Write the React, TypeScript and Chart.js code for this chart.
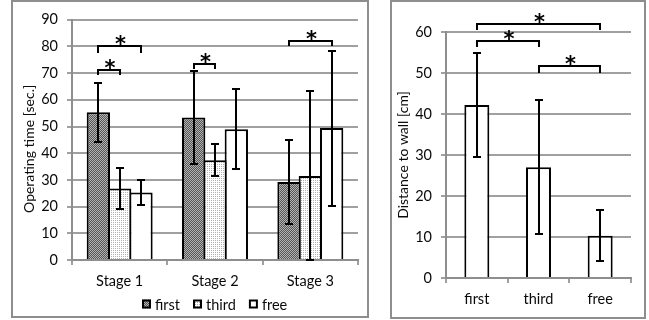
import React, { useEffect, useRef } from 'react';
import { Chart, registerables } from 'chart.js';

Chart.register(...registerables);

// ---------- data: left chart (operating time) ----------
const stageLabels = ['Stage 1', 'Stage 2', 'Stage 3'];
const seriesNames = ['first', 'third', 'free'];
const firstMeans = [55.3, 53.4, 29.2];
const firstErrors = [11.0, 17.3, 15.8];
const thirdMeans = [26.8, 37.4, 31.5];
const thirdErrors = [7.8, 6.0, 31.8];
const freeMeans = [25.3, 49.0, 49.4];
const freeErrors = [4.8, 15.0, 29.0];
const timeTicks = [0, 10, 20, 30, 40, 50, 60, 70, 80, 90];
const timeTitle = 'Operating time [sec.]';
// significance brackets: [fromDataset, fromIndex, toDataset, toIndex, level, endLevel]
const timeBrackets = [
  [0, 0, 1, 0, 71.1, 69.4],
  [0, 0, 2, 0, 80.0, 77.5],
  [0, 1, 1, 1, 73.4, 71.6],
  [0, 2, 2, 2, 82.1, 80.0],
];

// ---------- data: right chart (distance to wall) ----------
const wallLabels = ['first', 'third', 'free'];
const wallMeans = [42.2, 27.0, 10.3];
const wallErrors = [12.8, 16.3, 6.2];
const wallTicks = [0, 10, 20, 30, 40, 50, 60];
const wallTitle = 'Distance to wall [cm]';
const wallBrackets = [
  [0, 0, 0, 2, 61.9, 60.6],
  [0, 0, 0, 1, 57.7, 56.3],
  [0, 1, 0, 2, 51.7, 50.0],
];

const FONT = 'Lato';
const FONT_SIZE = 14.5;
const TITLE_SIZE = 14;
const TEXT = '#0a0a0a';
const GRID = '#a0a0a0';
const AXIS = '#8e8e8e';

function makePattern(size: number, base: string, dot: string, dots: number[][]) {
  const c = document.createElement('canvas');
  c.width = size;
  c.height = size;
  const g = c.getContext('2d')!;
  g.fillStyle = base;
  g.fillRect(0, 0, size, size);
  g.fillStyle = dot;
  dots.forEach(([x, y]) => g.fillRect(x, y, 1, 1));
  return g.createPattern(c, 'repeat')!;
}

const errorBarsPlugin = {
  id: 'errorBars',
  afterDatasetsDraw(chart: any, _args: any, opts: any) {
    const errs: number[][] = opts.errors;
    if (!errs) return;
    const ctx = chart.ctx;
    const yScale = chart.scales.y;
    const hw = opts.capHalfWidth ?? 4;
    ctx.save();
    ctx.strokeStyle = '#000';
    ctx.lineWidth = 2;
    chart.data.datasets.forEach((ds: any, di: number) => {
      const meta = chart.getDatasetMeta(di);
      meta.data.forEach((bar: any, i: number) => {
        const v = ds.data[i];
        const e = errs[di][i];
        const top = Math.round(yScale.getPixelForValue(v + e));
        const bot = Math.round(yScale.getPixelForValue(Math.max(v - e, yScale.min)));
        const x = Math.round(bar.x);
        ctx.beginPath();
        ctx.moveTo(x, top);
        ctx.lineTo(x, bot);
        ctx.moveTo(x - hw, top);
        ctx.lineTo(x + hw, top);
        ctx.moveTo(x - hw, bot);
        ctx.lineTo(x + hw, bot);
        ctx.stroke();
      });
    });
    ctx.restore();
  },
};

const bracketsPlugin = {
  id: 'sigBrackets',
  afterDraw(chart: any, _args: any, opts: any) {
    const items: number[][] = opts.items;
    if (!items) return;
    const ctx = chart.ctx;
    const yScale = chart.scales.y;
    ctx.save();
    ctx.strokeStyle = '#000';
    ctx.fillStyle = '#000';
    ctx.lineWidth = 2;
    ctx.font = `bold 21px "DejaVu Sans"`;
    ctx.textAlign = 'center';
    ctx.textBaseline = 'alphabetic';
    items.forEach(([ds1, i1, ds2, i2, level, end]) => {
      const x1 = Math.round(chart.getDatasetMeta(ds1).data[i1].x);
      const x2 = Math.round(chart.getDatasetMeta(ds2).data[i2].x);
      const y = Math.round(yScale.getPixelForValue(level));
      const ye = Math.round(yScale.getPixelForValue(end));
      ctx.beginPath();
      ctx.moveTo(x1, ye);
      ctx.lineTo(x1, y);
      ctx.lineTo(x2, y);
      ctx.lineTo(x2, ye);
      ctx.stroke();
      ctx.fillText('*', (x1 + x2) / 2 + 1, y + 5);
    });
    ctx.restore();
  },
};

const axisTitlePlugin = {
  id: 'axisTitle',
  afterDraw(chart: any, _args: any, opts: any) {
    if (!opts.text) return;
    const ctx = chart.ctx;
    const y = chart.scales.y;
    ctx.save();
    ctx.translate(opts.x, (y.top + y.bottom) / 2 + (opts.shift || 0));
    ctx.rotate(-Math.PI / 2);
    ctx.font = `${TITLE_SIZE}px ${FONT}`;
    ctx.fillStyle = TEXT;
    ctx.textAlign = 'center';
    ctx.textBaseline = 'middle';
    ctx.fillText(opts.text, 0, 0);
    ctx.restore();
  },
};

const patternLegendPlugin = {
  id: 'patternLegend',
  afterDraw(chart: any, _args: any, opts: any) {
    if (!opts.show) return;
    const ctx = chart.ctx;
    const area = chart.chartArea;
    const y = opts.y;
    const box = 9;
    const gapText = 4;
    const gapItem = 13;
    ctx.save();
    ctx.font = `${FONT_SIZE}px ${FONT}`;
    const items = chart.data.datasets.map((ds: any) => ({
      label: ds.label,
      fill: ds.backgroundColor,
      w: ctx.measureText(ds.label).width,
    }));
    const total = items.reduce((s: number, it: any) => s + box + gapText + it.w, 0) + gapItem * (items.length - 1);
    let x = Math.round((area.left + area.right) / 2 - total / 2);
    items.forEach((it: any) => {
      ctx.fillStyle = it.fill;
      ctx.fillRect(x, y - box / 2, box, box);
      ctx.strokeStyle = '#000';
      ctx.lineWidth = 2;
      ctx.strokeRect(x + 1, y - box / 2 + 1, box - 2, box - 2);
      ctx.fillStyle = TEXT;
      ctx.textBaseline = 'middle';
      ctx.textAlign = 'left';
      ctx.fillText(it.label, x + box + gapText, y + 1);
      x += box + gapText + it.w + gapItem;
    });
    ctx.restore();
  },
};

function axisOptions(ticks: number[], yWidth: number) {
  const font = { family: FONT, size: FONT_SIZE };
  return {
    x: {
      grid: { display: true, drawOnChartArea: false, drawTicks: true, tickLength: 5, color: GRID, lineWidth: 2, offset: true },
      border: { display: true, color: AXIS, width: 2 },
      ticks: { font, color: TEXT, padding: 8 },
      afterFit: (s: any) => { s.height = 30; },
    },
    y: {
      min: ticks[0],
      max: ticks[ticks.length - 1],
      afterBuildTicks: (s: any) => { s.ticks = ticks.map((v) => ({ value: v })); },
      ticks: { font, color: TEXT, padding: 9 },
      grid: { color: GRID, lineWidth: 2, tickLength: 5 },
      border: { display: true, color: AXIS, width: 2 },
      title: { display: false },
      afterFit: (s: any) => { s.width = yWidth; },
    },
  };
}

export default function App() {
  const leftRef = useRef<HTMLCanvasElement>(null);
  const rightRef = useRef<HTMLCanvasElement>(null);

  useEffect(() => {
    const dark = makePattern(2, '#b4b4b4', '#555555', [[0, 0], [1, 1]]);
    const light = makePattern(2, '#ffffff', '#b0b0b0', [[0, 0]]);
    const fills = [dark, light, '#ffffff'];
    const means = [firstMeans, thirdMeans, freeMeans];

    const left = new Chart(leftRef.current!, {
      type: 'bar',
      data: {
        labels: stageLabels,
        datasets: seriesNames.map((name, i) => ({
          label: name,
          data: means[i],
          backgroundColor: fills[i],
          borderColor: '#000',
          borderWidth: 2,
          borderSkipped: 'start',
          categoryPercentage: 0.671,
          barPercentage: 1.094,
        })),
      },
      options: {
        responsive: false,
        animation: false,
        layout: { padding: { left: 4, right: 9, top: 15, bottom: 26 } },
        plugins: {
          legend: { display: false },
          tooltip: { enabled: false },
          errorBars: { errors: [firstErrors, thirdErrors, freeErrors], capHalfWidth: 4 },
          sigBrackets: { items: timeBrackets },
          axisTitle: { text: timeTitle, x: 16, shift: 9 },
          patternLegend: { show: true, y: 302 },
        } as any,
        scales: axisOptions(timeTicks, 55) as any,
      },
      plugins: [errorBarsPlugin, bracketsPlugin, axisTitlePlugin, patternLegendPlugin],
    });

    const right = new Chart(rightRef.current!, {
      type: 'bar',
      data: {
        labels: wallLabels,
        datasets: [
          {
            label: 'distance',
            data: wallMeans,
            backgroundColor: '#ffffff',
            borderColor: '#000',
            borderWidth: 2,
            borderSkipped: 'start',
            categoryPercentage: 1,
            barPercentage: 0.405,
          },
        ],
      },
      options: {
        responsive: false,
        animation: false,
        layout: { padding: { left: 0, right: 13, top: 30, bottom: 9 } },
        plugins: {
          legend: { display: false },
          tooltip: { enabled: false },
          errorBars: { errors: [wallErrors], capHalfWidth: 4 },
          sigBrackets: { items: wallBrackets },
          axisTitle: { text: wallTitle, x: 11, shift: 0 },
          patternLegend: { show: false },
        } as any,
        scales: axisOptions(wallTicks, 54) as any,
      },
      plugins: [errorBarsPlugin, bracketsPlugin, axisTitlePlugin, patternLegendPlugin],
    });

    return () => {
      left.destroy();
      right.destroy();
    };
  }, []);

  const boxStyle = (left: number, w: number, h: number): React.CSSProperties => ({
    position: 'absolute',
    left,
    top: 0,
    width: w,
    height: h,
    border: '2px solid #8e8e8e',
    background: '#fff',
  });

  return (
    <div style={{ position: 'fixed', left: 0, top: 0, width: 649, height: 320, background: '#fff' }}>
      <div style={boxStyle(11, 354, 314)}>
        <canvas ref={leftRef} width={354} height={314} style={{ display: 'block', width: 354, height: 314 }} />
      </div>
      <div style={boxStyle(390, 252, 315)}>
        <canvas ref={rightRef} width={252} height={315} style={{ display: 'block', width: 252, height: 315 }} />
      </div>
    </div>
  );
}
